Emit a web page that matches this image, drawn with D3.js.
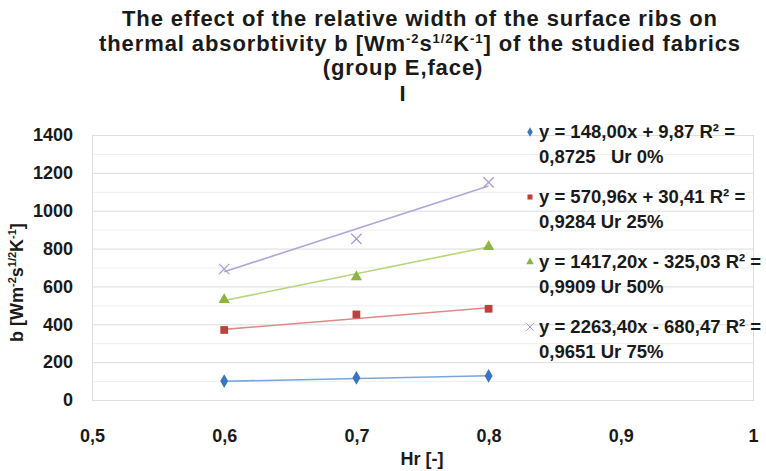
<!DOCTYPE html>
<html>
<head>
<meta charset="utf-8">
<script src="https://cdn.jsdelivr.net/npm/d3@7"></script>
<style>
  body { margin: 0; background: #fff; }
  text { font-family: "Liberation Sans", Arial, sans-serif; }
</style>
</head>
<body>
<div id="chart"></div>
<script>
var width = 766;
var height = 471;

// data
var hr = [0.6, 0.7, 0.8];
var ur0 = [100, 117, 127];
var ur25 = [370, 452, 482];
var ur50 = [530, 650, 810];
var ur75 = [692, 851, 1150];

// trendline coefficients from the legend
var slopes = [148.00, 570.96, 1417.20, 2263.40];
var intercepts = [9.87, 30.41, -325.03, -680.47];

var legendLine1 = ["y = 148,00x + 9,87 R\u00b2 =", "y = 570,96x + 30,41 R\u00b2 =",
  "y = 1417,20x - 325,03 R\u00b2 =", "y = 2263,40x - 680,47 R\u00b2 ="];
var legendLine2 = ["0,8725   Ur 0%", "0,9284 Ur 25%", "0,9909 Ur 50%", "0,9651 Ur 75%"];

var xTicks = [0.5, 0.6, 0.7, 0.8, 0.9, 1];
var yTicks = [0, 200, 400, 600, 800, 1000, 1200, 1400];

var series = [ur0, ur25, ur50, ur75];
var markerColors = ["#3a75c4", "#c0403d", "#8db43e", "#a99bd4"];
var lineColors = ["#7aa6dc", "#e08a88", "#b7d47e", "#b3a4d8"];
var symbols = [d3.symbolDiamond, d3.symbolSquare, d3.symbolTriangle, d3.symbolX];

var xScale = d3.scaleLinear().domain([0.5, 1]).range([92, 753]);
var yScale = d3.scaleLinear().domain([0, 1400]).range([400, 135]);

var svg = d3.select("#chart").append("svg")
  .attr("width", width)
  .attr("height", height);

// title
var titleLines = [
  { t: "The effect of the relative width of the surface ribs on", x: 420, y: 26 },
  { t: null, x: 420, y: 51 },
  { t: "(group E,face)", x: 403, y: 75 },
  { t: "I", x: 403, y: 101 }
];
titleLines.forEach(function (l, i) {
  var tx = svg.append("text")
    .attr("x", l.x)
    .attr("y", l.y)
    .attr("text-anchor", "middle")
    .attr("font-size", "22px")
    .attr("font-weight", "bold")
    .attr("letter-spacing", "0.9px")
    .attr("fill", "#1a1a1a");
  if (i == 1) {
    tx.append("tspan").text("thermal absorbtivity b [Wm");
    tx.append("tspan").attr("font-size", "13px").attr("dy", "-8").text("-2");
    tx.append("tspan").attr("dy", "8").text("s");
    tx.append("tspan").attr("font-size", "13px").attr("dy", "-8").text("1/2");
    tx.append("tspan").attr("dy", "8").text("K");
    tx.append("tspan").attr("font-size", "13px").attr("dy", "-8").text("-1");
    tx.append("tspan").attr("dy", "8").text("] of the studied fabrics");
  } else {
    tx.text(l.t);
  }
});

// gridlines every 100, plot border
var grid = svg.append("g");
grid.selectAll("line")
  .data(d3.range(100, 1400, 100))
  .enter()
  .append("line")
  .attr("x1", xScale(0.5))
  .attr("x2", xScale(1))
  .attr("y1", function (d) { return yScale(d) + 0.5; })
  .attr("y2", function (d) { return yScale(d) + 0.5; })
  .attr("stroke", function (d) { return d % 200 == 0 ? "#dcdcdc" : "#efefef"; })
  .attr("stroke-width", 1);

svg.append("rect")
  .attr("x", xScale(0.5) + 0.5)
  .attr("y", yScale(1400) + 0.5)
  .attr("width", xScale(1) - xScale(0.5))
  .attr("height", yScale(0) - yScale(1400))
  .attr("fill", "none")
  .attr("stroke", "#dedede");

// axes
var yAxis = d3.axisLeft(yScale).tickValues(yTicks).tickSize(0).tickPadding(19)
  .tickFormat(d3.format("d"));
var xAxis = d3.axisBottom(xScale).tickValues(xTicks).tickSize(0).tickPadding(29)
  .tickFormat(function (d) { return String(d).replace(".", ","); });

var gy = svg.append("g").attr("transform", "translate(" + xScale(0.5) + ",0)").call(yAxis);
var gx = svg.append("g").attr("transform", "translate(0," + yScale(0) + ")").call(xAxis);
[gx, gy].forEach(function (g) {
  g.select(".domain").remove();
  g.selectAll("text")
    .attr("font-size", "18px")
    .attr("font-weight", "bold")
    .attr("fill", "#1a1a1a")
    .style("font-family", "'Liberation Sans', Arial, sans-serif");
});

// axis titles
svg.append("text")
  .attr("x", 422)
  .attr("y", 465)
  .attr("text-anchor", "middle")
  .attr("font-size", "18px")
  .attr("font-weight", "bold")
  .attr("fill", "#1a1a1a")
  .text("Hr [-]");

var yl = svg.append("text")
  .attr("transform", "translate(23,342) rotate(-90)")
  .attr("font-size", "18px")
  .attr("font-weight", "bold")
  .attr("fill", "#1a1a1a");
yl.append("tspan").text("b [Wm");
yl.append("tspan").attr("font-size", "11px").attr("dy", "-7").text("-2");
yl.append("tspan").attr("dy", "7").text("s");
yl.append("tspan").attr("font-size", "11px").attr("dy", "-7").text("1/2");
yl.append("tspan").attr("dy", "7").text("K");
yl.append("tspan").attr("font-size", "11px").attr("dy", "-7").text("-1");
yl.append("tspan").attr("dy", "7").text("]");

// trendlines
svg.append("g").selectAll("line")
  .data(slopes)
  .enter()
  .append("line")
  .attr("x1", xScale(hr[0]))
  .attr("x2", xScale(hr[hr.length - 1]))
  .attr("y1", function (d, i) { return yScale(d * hr[0] + intercepts[i]); })
  .attr("y2", function (d, i) { return yScale(d * hr[hr.length - 1] + intercepts[i]); })
  .attr("stroke", function (d, i) { return lineColors[i]; })
  .attr("stroke-width", 1.6);

// markers
series.forEach(function (s, i) {
  var isX = i == 3;
  svg.append("g").selectAll("path")
    .data(s)
    .enter()
    .append("path")
    .attr("transform", function (d, j) { return "translate(" + xScale(hr[j]) + "," + yScale(d) + ")"; })
    .attr("d", d3.symbol().type(symbols[i]).size(isX ? 70 : (i == 1 ? 60 : 55)))
    .attr("fill", isX ? "none" : markerColors[i])
    .attr("stroke", isX ? markerColors[i] : "none")
    .attr("stroke-width", 1.3);
});

// legend
var legend = svg.append("g").selectAll("g")
  .data(legendLine1)
  .enter()
  .append("g")
  .attr("transform", function (d, i) { return "translate(530," + (132 + i * 65) + ")"; });

legend.append("path")
  .attr("d", function (d, i) { return d3.symbol().type(symbols[i]).size(i == 3 ? 40 : 26)(); })
  .attr("fill", function (d, i) { return i == 3 ? "none" : markerColors[i]; })
  .attr("stroke", function (d, i) { return i == 3 ? markerColors[i] : "none"; });

legend.append("text")
  .attr("x", 9)
  .attr("y", 6)
  .attr("font-size", "18.5px")
  .attr("font-weight", "bold")
  .attr("fill", "#1a1a1a")
  .text(function (d) { return d; });

legend.append("text")
  .attr("x", 9)
  .attr("y", 31)
  .attr("font-size", "18.5px")
  .attr("font-weight", "bold")
  .attr("fill", "#1a1a1a")
  .style("white-space", "pre")
  .text(function (d, i) { return legendLine2[i]; });
</script>
</body>
</html>
